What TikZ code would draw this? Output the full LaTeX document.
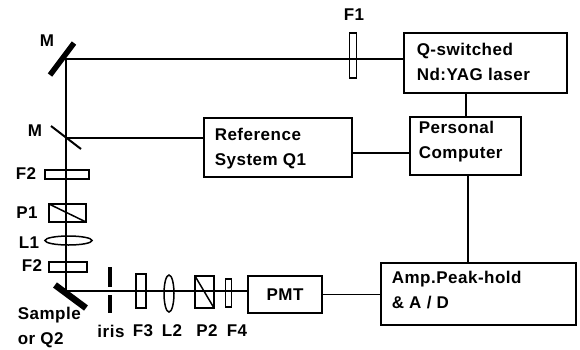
\documentclass[tikz,border=0pt]{standalone}
\usepackage{fontspec}
\setmainfont[LetterSpace=3]{Liberation Sans}
\usepackage{tikz}
\usetikzlibrary{shapes.geometric,positioning}

\begin{document}
\begin{tikzpicture}[x=1pt,y=-1pt,line width=1.5pt,font=\fontsize{17}{25}\selectfont\bfseries,
    unit/.style={draw,rectangle,inner sep=0pt,outer sep=0pt},
    lens/.style={draw,ellipse,inner sep=0pt,outer sep=0pt},
    txt/.style={inner sep=0pt,align=left},
    mirror/.style={line width=#1}]
  \useasboundingbox (0,0) rectangle (580,349);

  % beam corners
  \coordinate (mtop) at (66,59);
  \coordinate (msplit) at (66,138);
  \coordinate (msample) at (66,291);
  \coordinate (pcleft) at (0,153);
  \coordinate (pctop) at (466,0);
  \coordinate (pcbottom) at (468,0);

  % boxes
  \node[unit,minimum width=163,minimum height=60] (laser) at (485.5,63) {};
  \node[unit,minimum width=111,minimum height=58] (pc) at (465.5,146) {};
  \node[unit,minimum width=148,minimum height=59] (ref) at (278,147.5) {};
  \node[unit,minimum width=195,minimum height=62] (amp) at (478.5,294) {};
  \node[unit,minimum width=74,minimum height=37] (pmt) at (285,294.5) {PMT};

  \node[txt,anchor=west] (lasertext) at (416,61.5) {Q-switched\\Nd:YAG laser};
  \node[txt,anchor=west] (pctext) at (418,141.5) {Personal\\Computer};
  \node[txt,anchor=west] (reftext) at (214,149) {Reference\\System Q1};
  \node[txt,anchor=west] (amptext) at (391,290.5) {Amp.Peak-hold\\\& A / D};

  % beam path and wires
  \draw (laser.west |- mtop) -- (mtop) -- (msample) -- (pmt.west |- msample);
  \draw (msplit) -- (ref.west |- msplit);
  \draw (laser.south -| pctop) -- (pc.north -| pctop);
  \draw (pc.south -| pcbottom) -- (amp.north -| pcbottom);
  \draw (ref.east |- pcleft) -- (pc.west |- pcleft);
  \draw (pmt.east) -- (amp.west |- pmt.east);

  % mirrors
  \coordinate (m1a) at (50,75);
  \coordinate (m1b) at (74,43);
  \coordinate (m2a) at (51,126);
  \coordinate (m2b) at (81,149);
  \coordinate (m3a) at (55,285);
  \coordinate (m3b) at (86,308);
  \draw[mirror=5.5pt] (m1a) -- (m1b);
  \draw[mirror=2pt] (m2a) -- (m2b);
  \draw[mirror=6.5pt] (m3a) -- (m3b);

  % iris
  \coordinate (ia) at (110,267);
  \coordinate (ib) at (110,287);
  \coordinate (ic) at (110,295);
  \coordinate (id) at (110,313);
  \draw[mirror=4.5pt] (ia) -- (ib);
  \draw[mirror=4.5pt] (ic) -- (id);

  % optics
  \node[unit,minimum width=7,minimum height=45] (f1) at (353,55.5) {};
  \node[unit,minimum width=44,minimum height=9] (f2a) at (67,174.5) {};
  \node[unit,minimum width=37,minimum height=18] (p1) at (67.5,213) {};
  \node[lens,minimum width=47,minimum height=9] (l1) at (68.5,240.5) {};
  \node[unit,minimum width=38,minimum height=10] (f2b) at (68,267) {};
  \node[unit,minimum width=10,minimum height=34] (f3) at (141,291) {};
  \node[lens,minimum width=10,minimum height=37] (l2) at (169,293.5) {};
  \node[unit,minimum width=19,minimum height=32] (p2) at (204.5,292) {};
  \node[unit,minimum width=6,minimum height=28] (f4) at (228.5,293) {};
  \draw (p1.north west) -- (p1.south east);
  \draw (p2.north west) -- (p2.south east);

  % labels
  \node[txt] (f1label) at (354,15) {F1};
  \node[txt] (m1label) at (47,41) {M};
  \node[txt] (m2label) at (35,131) {M};
  \node[txt] (f2alabel) at (26,174) {F2};
  \node[txt] (p1label) at (27,213) {P1};
  \node[txt] (l1label) at (29,243) {L1};
  \node[txt] (f2blabel) at (32,266) {F2};
  \node[txt,anchor=west] (samplelabel) at (17,328) {Sample\\or Q2};
  \node[txt] (irislabel) at (111,331) {iris};
  \node[txt] (f3label) at (143,331) {F3};
  \node[txt] (l2label) at (172,331) {L2};
  \node[txt] (p2label) at (207,331) {P2};
  \node[txt] (f4label) at (237,331) {F4};
\end{tikzpicture}
\end{document}
